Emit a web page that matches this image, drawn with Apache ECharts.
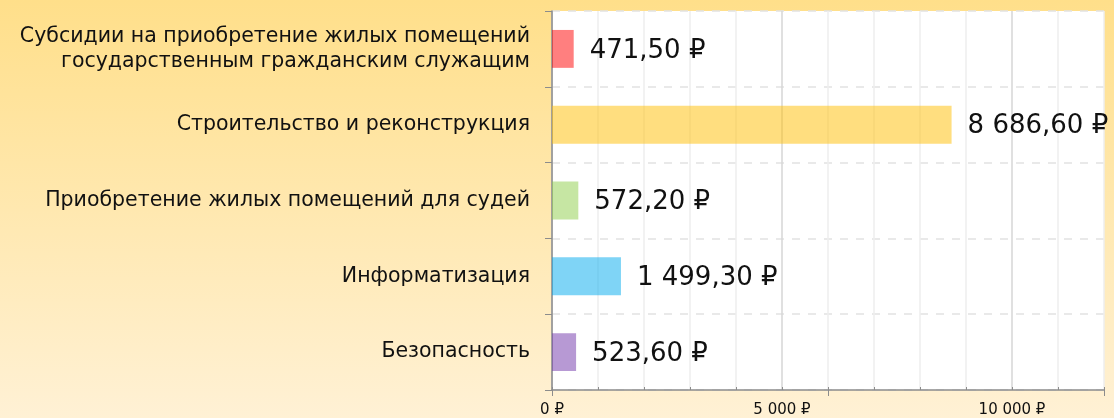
<!DOCTYPE html>
<html>
<head>
<meta charset="utf-8">
<script src="https://cdn.jsdelivr.net/npm/echarts@6/dist/echarts.min.js"></script>
<style>
  html, body { margin: 0; padding: 0; }
  #chart { width: 1114px; height: 418px; }
</style>
</head>
<body>
<div id="chart"></div>
<script>
// данные
var categories = [
    'Субсидии на приобретение жилых помещений\nгосударственным гражданским служащим',
    'Строительство и реконструкция',
    'Приобретение жилых помещений для судей',
    'Информатизация',
    'Безопасность'
];
var values = [471.5, 8686.6, 572.2, 1499.3, 523.6];
var barColors = [
    'rgba(255, 0, 0, 0.5)',
    'rgba(255, 189, 0, 0.5)',
    'rgba(141, 205, 72, 0.5)',
    'rgba(0, 169, 237, 0.5)',
    'rgba(111, 51, 169, 0.5)'
];
var axisMax = 12000;

// 1 499,30 ₽
function money(v, digits) {
    var s = v.toFixed(digits).split('.');
    var intPart = s[0].replace(/\B(?=(\d{3})+(?!\d))/g, ' ');
    return intPart + (s[1] ? ',' + s[1] : '') + ' ₽';
}

var myChart = echarts.init(document.getElementById('chart'));
var option = {
    backgroundColor: {
        type: 'linear',
        x: 0, y: 0, x2: 0, y2: 1,
        colorStops: [
            { offset: 0, color: '#FFDF8A' },
            { offset: 1, color: '#FFF1D5' }
        ]
    },
    textStyle: { fontFamily: 'DejaVu Sans' },
    grid: {
        show: true,
        backgroundColor: '#fff',
        borderWidth: 0,
        left: 552,
        right: 10,
        top: 11,
        bottom: 27
    },
    xAxis: [{
        type: 'value',
        min: 0,
        max: axisMax,
        interval: 1000,
        axisLine: { show: true, lineStyle: { color: '#8c8c8c', width: 1.5 } },
        axisTick: { show: true, inside: true, length: 3, lineStyle: { color: '#8c8c8c' } },
        axisLabel: {
            margin: 13,
            fontSize: 15,
            color: '#111',
            formatter: function (v) {
                return v % 5000 === 0 ? money(v, 0) : '';
            }
        },
        splitLine: {
            show: true,
            lineStyle: {
                color: ['#d6d6d6', '#eeeeee', '#eeeeee', '#eeeeee', '#eeeeee'],
                width: 1.5
            }
        }
    }, {
        type: 'value',
        position: 'bottom',
        min: 0,
        max: 10000,
        interval: 5000,
        axisLine: { show: false },
        axisTick: { show: true, length: 6, lineStyle: { color: '#8c8c8c' } },
        axisLabel: { show: false },
        splitLine: { show: false }
    }],
    yAxis: {
        type: 'category',
        inverse: true,
        data: categories,
        axisLine: { show: true, lineStyle: { color: '#8c8c8c', width: 1.5 } },
        axisTick: { show: true, length: 7, lineStyle: { color: '#8c8c8c' } },
        axisLabel: {
            margin: 22,
            fontSize: 20.5,
            lineHeight: 25,
            color: '#111',
            align: 'right'
        },
        splitLine: {
            show: true,
            lineStyle: { color: '#e2e2e2', type: [8, 8], width: 1.5 }
        }
    },
    series: [{
        type: 'bar',
        xAxisIndex: 0,
        data: values.map(function (v, i) {
            return { value: v, itemStyle: { color: barColors[i] } };
        }),
        barWidth: '50%',
        label: {
            show: true,
            position: 'right',
            distance: 16,
            offset: [0, 2],
            fontSize: 26,
            color: '#111',
            formatter: function (p) { return money(p.value, 2); }
        }
    }]
};
myChart.setOption(option);
</script>
</body>
</html>
